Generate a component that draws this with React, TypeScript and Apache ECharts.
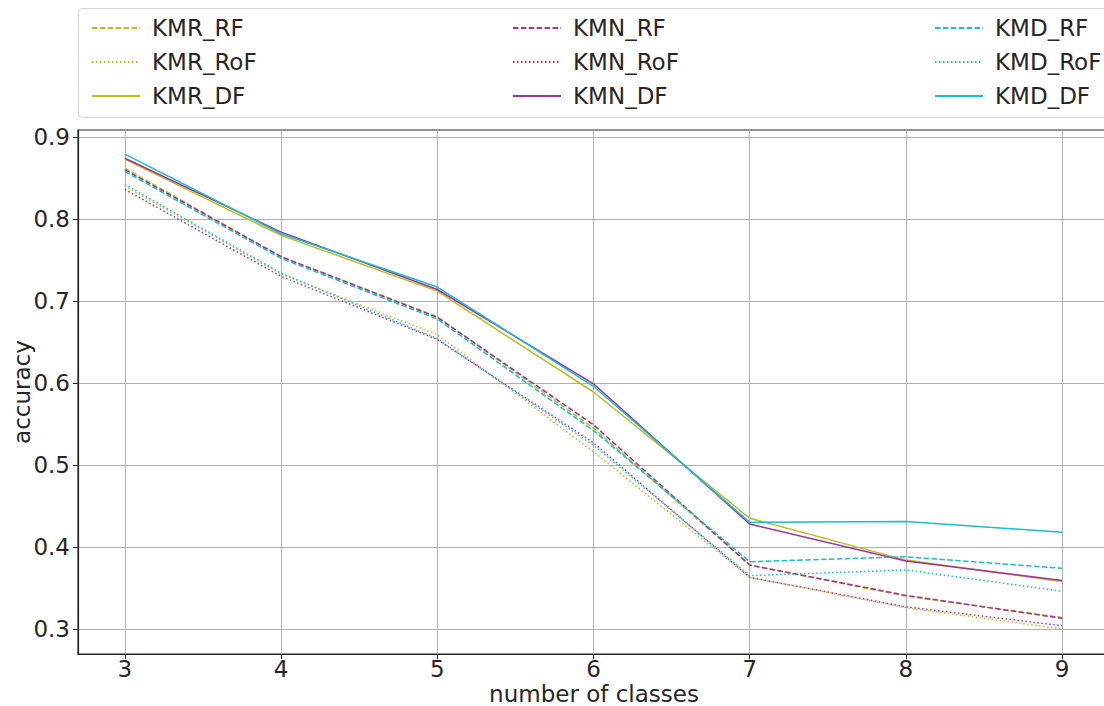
import React, { useEffect, useRef } from "react";
import * as echarts from "echarts";

const classes = [3, 4, 5, 6, 7, 8, 9];
const yTicks = [0.3, 0.4, 0.5, 0.6, 0.7, 0.8, 0.9];

const KMR_RF = [0.862, 0.754, 0.681, 0.545, 0.378, 0.340, 0.314];
const KMR_RoF = [0.840, 0.733, 0.659, 0.516, 0.363, 0.326, 0.300];
const KMR_DF = [0.873, 0.780, 0.712, 0.589, 0.435, 0.384, 0.358];
const KMN_RF = [0.860, 0.754, 0.680, 0.549, 0.378, 0.341, 0.313];
const KMN_RoF = [0.836, 0.730, 0.653, 0.527, 0.363, 0.327, 0.304];
const KMN_DF = [0.874, 0.784, 0.714, 0.599, 0.428, 0.383, 0.359];
const KMD_RF = [0.858, 0.752, 0.678, 0.542, 0.382, 0.388, 0.374];
const KMD_RoF = [0.842, 0.734, 0.654, 0.524, 0.365, 0.372, 0.346];
const KMD_DF = [0.879, 0.782, 0.717, 0.596, 0.430, 0.431, 0.418];

const OLIVE = "#bcbd22";
const PURPLE = "#a0329a";
const CYAN = "#17becf";
const DASH = [5.5, 2.4];
const DOT = [1.5, 2.5];

const seriesDefs = [
  { name: "KMR_RF", data: KMR_RF, color: OLIVE, type: DASH },
  { name: "KMR_RoF", data: KMR_RoF, color: OLIVE, type: DOT },
  { name: "KMR_DF", data: KMR_DF, color: OLIVE, type: "solid" },
  { name: "KMN_RF", data: KMN_RF, color: PURPLE, type: DASH },
  { name: "KMN_RoF", data: KMN_RoF, color: PURPLE, type: DOT },
  { name: "KMN_DF", data: KMN_DF, color: PURPLE, type: "solid" },
  { name: "KMD_RF", data: KMD_RF, color: CYAN, type: DASH },
  { name: "KMD_RoF", data: KMD_RoF, color: CYAN, type: DOT },
  { name: "KMD_DF", data: KMD_DF, color: CYAN, type: "solid" },
];

const FONT = "DejaVu Sans";
const TXT = "#262626";

export default function App() {
  const ref = useRef<HTMLDivElement>(null);
  useEffect(() => {
    if (!ref.current) return;
    const chart = echarts.init(ref.current, null, { renderer: "svg" });
    const legendCommon = {
      orient: "vertical",
      top: 11,
      itemWidth: 48,
      itemHeight: 14,
      itemGap: 10,
      itemStyle: { opacity: 0 },
      textStyle: {
        fontFamily: FONT,
        fontSize: 23,
        color: TXT,
        lineHeight: 24,
        padding: [0, 0, 0, 7],
      },
    };
    chart.setOption({
      animation: false,
      backgroundColor: "#ffffff",
      textStyle: { fontFamily: FONT },
      graphic: [
        {
          type: "rect",
          z: -1,
          shape: { x: 78.5, y: 8.5, width: 1040, height: 109, r: 4 },
          style: { fill: "#ffffff", stroke: "#d6d6d6", lineWidth: 1 },
        },
        {
          type: "text",
          x: 594,
          y: 694,
          style: {
            text: "number of classes",
            font: `23px "${FONT}"`,
            fill: TXT,
            align: "center",
            verticalAlign: "middle",
          },
        },
        {
          type: "text",
          x: 22,
          y: 392,
          rotation: Math.PI / 2,
          style: {
            text: "accuracy",
            font: `23px "${FONT}"`,
            fill: TXT,
            align: "center",
            verticalAlign: "middle",
          },
        },
      ],
      legend: [
        { ...legendCommon, left: 86, data: ["KMR_RF", "KMR_RoF", "KMR_DF"] },
        { ...legendCommon, left: 507, data: ["KMN_RF", "KMN_RoF", "KMN_DF"] },
        { ...legendCommon, left: 929, data: ["KMD_RF", "KMD_RoF", "KMD_DF"] },
      ],
      grid: {
        left: 78,
        top: 130,
        width: 1031,
        height: 524,
        outerBoundsMode: "none",
        containLabel: false,
        show: true,
        borderColor: "#262626",
        borderWidth: 1.2,
        backgroundColor: "transparent",
      },
      xAxis: {
        type: "value",
        min: 2.7,
        max: 9.3,
        axisLine: { show: true, lineStyle: { color: "#262626", width: 1.2 } },
        axisTick: { show: true, length: 5, customValues: classes, lineStyle: { color: "#262626" } },
        axisLabel: { customValues: classes, margin: 3, fontFamily: FONT, fontSize: 23, color: TXT },
        splitLine: { show: true, lineStyle: { color: "#b0b0b0", width: 1 } },
      },
      yAxis: {
        type: "value",
        min: 0.2695,
        max: 0.9085,
        axisLine: { show: true, lineStyle: { color: "#262626", width: 1.2 } },
        axisTick: { show: true, length: 5, customValues: yTicks, lineStyle: { color: "#262626" } },
        axisLabel: {
          customValues: yTicks,
          margin: 8,
          fontFamily: FONT,
          fontSize: 23,
          color: TXT,
          formatter: (v: number) => v.toFixed(1),
        },
        splitLine: { show: true, lineStyle: { color: "#b0b0b0", width: 1 } },
      },
      series: seriesDefs.map((s) => ({
        name: s.name,
        type: "line",
        data: classes.map((c, i) => [c, s.data[i]]),
        symbol: "none",
        color: s.color,
        lineStyle: { color: s.color, width: 1.5, type: s.type },
        itemStyle: { color: s.color },
      })),
    });
    return () => chart.dispose();
  }, []);
  return (
    <div
      ref={ref}
      style={{ position: "absolute", left: 0, top: 0, width: 1104, height: 706 }}
    />
  );
}
